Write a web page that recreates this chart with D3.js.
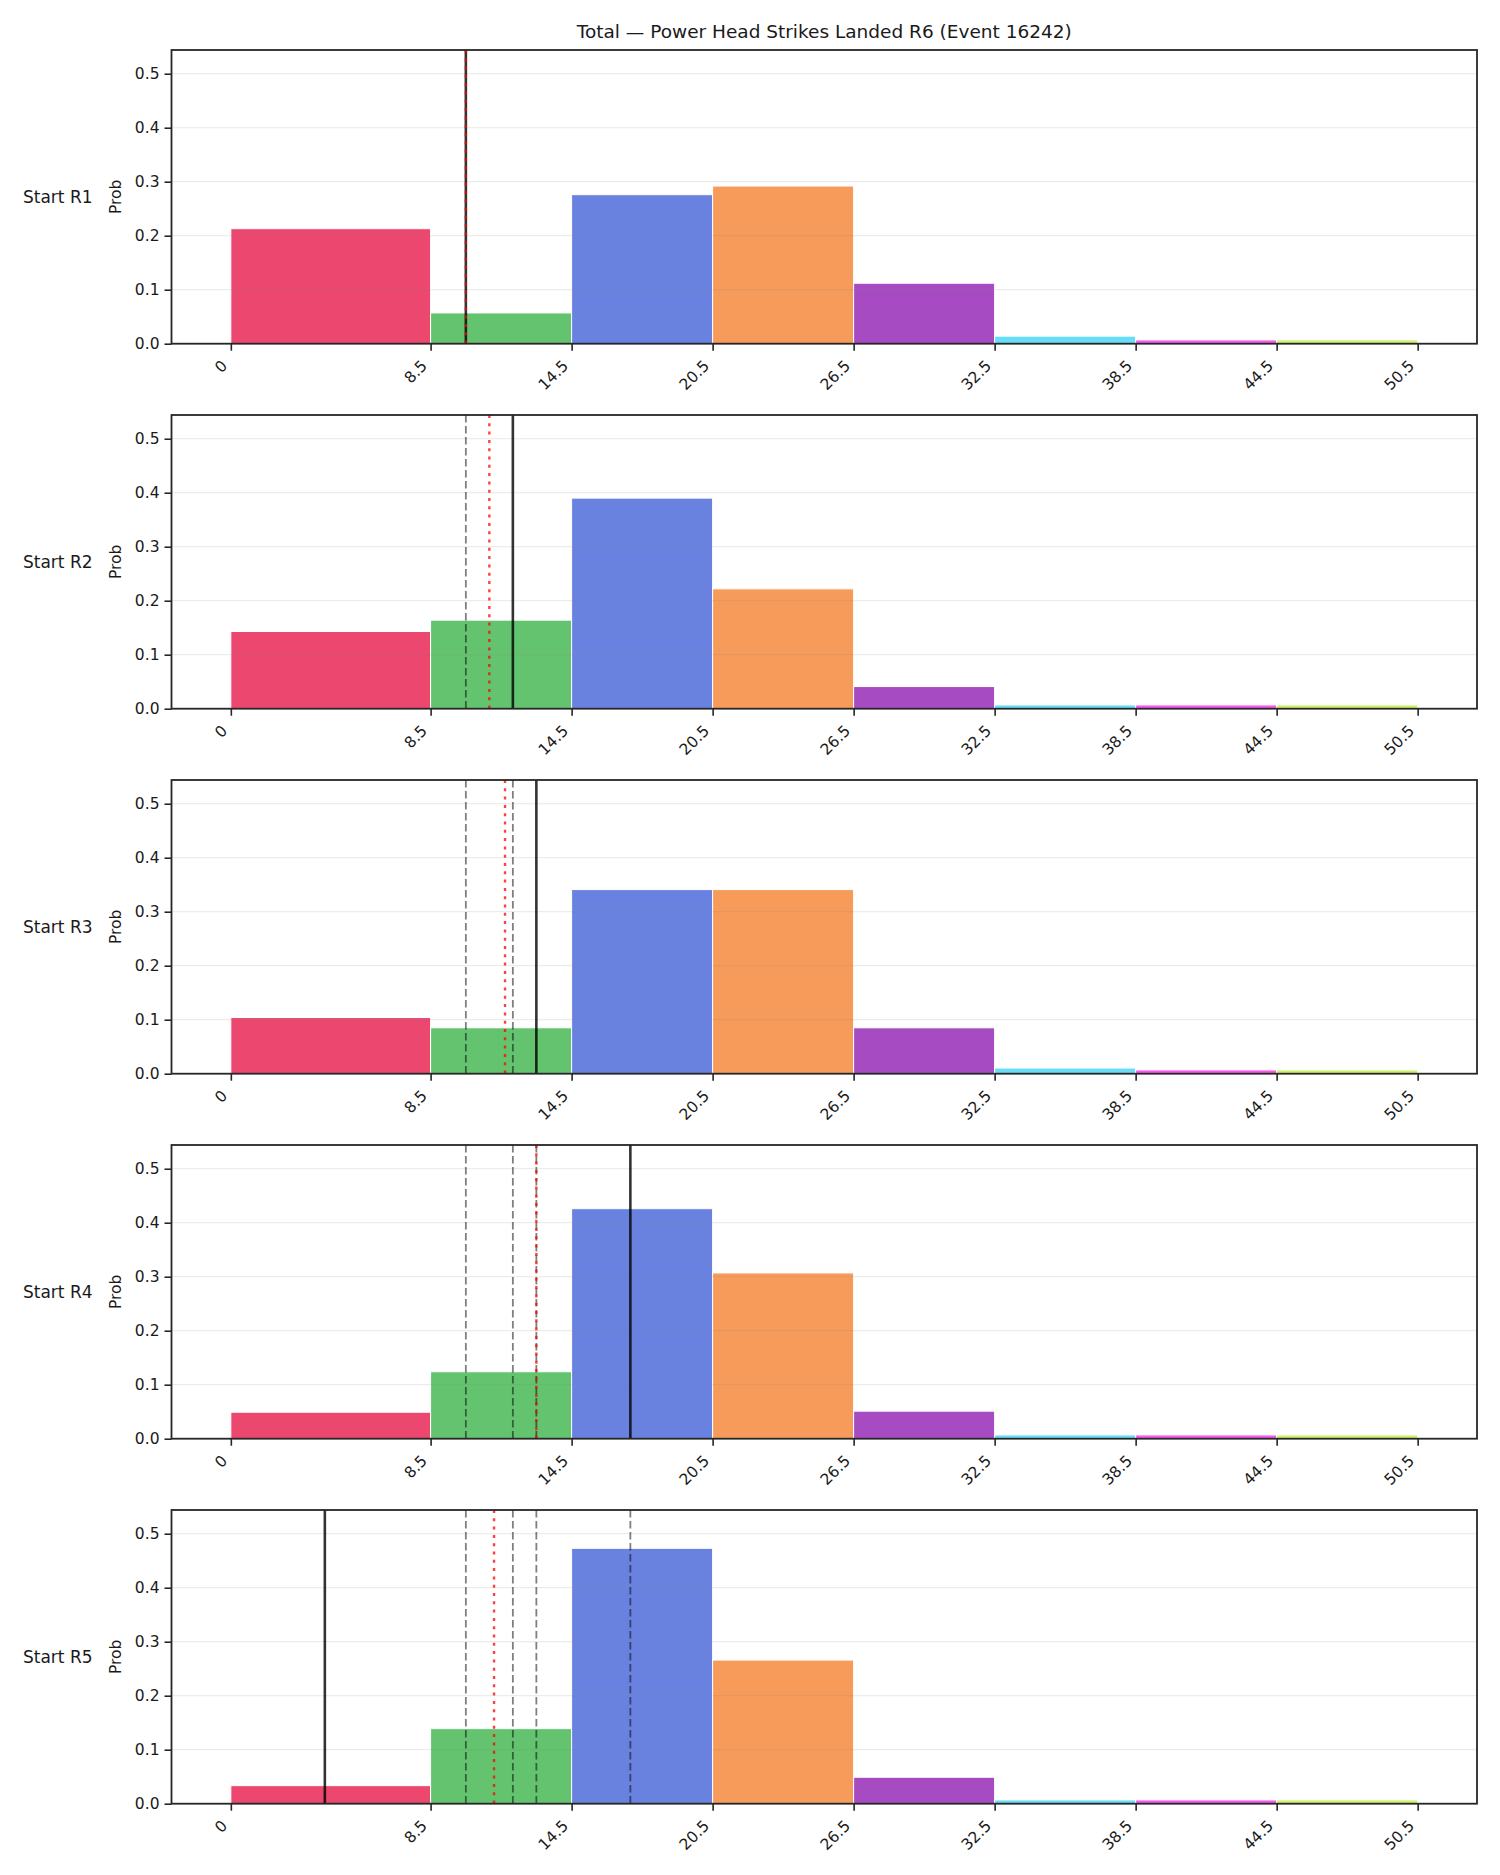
<!DOCTYPE html>
<html>
<head>
<meta charset="utf-8">
<script src="https://cdn.jsdelivr.net/npm/d3@7"></script>
<style>
  body { margin: 0; background: #fff; }
  text { font-family: "DejaVu Sans", sans-serif; fill: #1a1a1a; }
  .spine { fill: none; stroke: #262626; stroke-width: 1.8; }
  .grid line { stroke: #888; stroke-opacity: 0.2; stroke-width: 1; }
</style>
</head>
<body>
<div id="chart"></div>
<script>
(function(){

// bin edges and colours
var edges = [0, 8.5, 14.5, 20.5, 26.5, 32.5, 38.5, 44.5, 50.5];
var binColors = ["#e6194b", "#3cb44b", "#4363d8", "#f58231", "#911eb4", "#42d4f4", "#f032e6", "#bfef45"];
var yTicks = [0, 0.1, 0.2, 0.3, 0.4, 0.5];

var rounds = ["Start R1", "Start R2", "Start R3", "Start R4", "Start R5"];

// probability per bin, one array per starting round
var probR1 = [0.213, 0.057, 0.276, 0.292, 0.112, 0.014, 0.007, 0.007];
var probR2 = [0.143, 0.164, 0.390, 0.222, 0.041, 0.007, 0.007, 0.007];
var probR3 = [0.104, 0.085, 0.341, 0.341, 0.085, 0.0105, 0.007, 0.007];
var probR4 = [0.049, 0.124, 0.426, 0.307, 0.051, 0.007, 0.007, 0.007];
var probR5 = [0.0334, 0.139, 0.473, 0.266, 0.049, 0.007, 0.007, 0.007];

// marker line per round (solid in its own panel, dashed afterwards)
var lineValues = [10, 12, 13, 17, 4];

var title = "Total \u2014 Power Head Strikes Landed R6 (Event 16242)";

var probs = [probR1, probR2, probR3, probR4, probR5];

var W = 1500, H = 1875;
var left = 171.5, right = 1477,
    top0 = 50, pitch = 365, ph = 293.7;

var pad = (edges[edges.length - 1] - edges[0]) * 0.05;
var x = d3.scaleLinear()
    .domain([edges[0] - pad, edges[edges.length - 1] + pad])
    .range([left, right]);

var yMax = d3.max(probs, function(p) { return d3.max(p); }) * 1.15;

var svg = d3.select("#chart").append("svg")
    .attr("width", W)
    .attr("height", H);

svg.append("text")
    .attr("x", (left + right) / 2)
    .attr("y", 38)
    .attr("text-anchor", "middle")
    .style("font-size", "18.5px")
    .text(title);

probs.forEach(function(p, i) {
    var top = top0 + i * pitch;
    var y = d3.scaleLinear().domain([0, yMax]).range([top + ph, top]);
    var g = svg.append("g");

    var bins = p.map(function(v, k) {
        return {x0: edges[k], x1: edges[k + 1], v: v, c: binColors[k]};
    });

    // bars
    g.selectAll("rect.bar")
        .data(bins)
      .enter().append("rect")
        .attr("class", "bar")
        .attr("x", function(d) { return x(d.x0); })
        .attr("width", function(d) { return x(d.x1) - x(d.x0); })
        .attr("y", function(d) { return y(d.v); })
        .attr("height", function(d) { return y(0) - y(d.v); })
        .style("fill", function(d) { return d.c; })
        .style("fill-opacity", 0.8)
        .style("stroke", "#fff")
        .style("stroke-width", 1);

    // grid
    g.append("g")
        .attr("class", "grid")
        .selectAll("line")
        .data(yTicks)
      .enter().append("line")
        .attr("x1", left)
        .attr("x2", right)
        .attr("y1", function(d) { return y(d); })
        .attr("y2", function(d) { return y(d); });

    // earlier rounds dashed
    var prev = lineValues.slice(0, i);
    g.selectAll("line.prev")
        .data(prev)
      .enter().append("line")
        .attr("class", "prev")
        .attr("x1", function(d) { return x(d); })
        .attr("x2", function(d) { return x(d); })
        .attr("y1", top)
        .attr("y2", top + ph)
        .style("stroke", "#000")
        .style("stroke-opacity", 0.5)
        .style("stroke-width", 1.8)
        .style("stroke-dasharray", "7.5,3.5");

    // current round solid
    g.append("line")
        .attr("x1", x(lineValues[i]))
        .attr("x2", x(lineValues[i]))
        .attr("y1", top)
        .attr("y2", top + ph)
        .style("stroke", "#000")
        .style("stroke-opacity", 0.8)
        .style("stroke-width", 2.6);

    // running mean dotted red
    var m = d3.mean(lineValues.slice(0, i + 1));
    g.append("line")
        .attr("x1", x(m))
        .attr("x2", x(m))
        .attr("y1", top)
        .attr("y2", top + ph)
        .style("stroke", "red")
        .style("stroke-opacity", 0.75)
        .style("stroke-width", 2.4)
        .style("stroke-dasharray", "3,5.3");

    // y axis
    var yAxis = d3.axisLeft(y).tickValues(yTicks)
        .tickFormat(d3.format(".1f")).tickSize(7).tickPadding(5);
    var ya = g.append("g")
        .attr("transform", "translate(" + left + ",0)")
        .call(yAxis);
    ya.select(".domain").remove();
    ya.selectAll("line").style("stroke", "#262626").style("stroke-width", 1.6);
    ya.selectAll("text").style("font-size", "15.5px").style("font-family", "DejaVu Sans");

    // x axis
    var xAxis = d3.axisBottom(x).tickValues(edges)
        .tickFormat(function(d) { return d === 0 ? "0" : d3.format(".1f")(d); })
        .tickSize(7);
    var xa = g.append("g")
        .attr("transform", "translate(0," + (top + ph) + ")")
        .call(xAxis);
    xa.select(".domain").remove();
    xa.selectAll("line").style("stroke", "#262626").style("stroke-width", 1.6);
    xa.selectAll("text")
        .style("font-size", "15.5px")
        .style("font-family", "DejaVu Sans")
        .attr("text-anchor", "end")
        .attr("y", null)
        .attr("dy", null)
        .attr("transform", "translate(-3,23) rotate(-45)");

    // frame
    g.append("rect")
        .attr("class", "spine")
        .attr("x", left)
        .attr("y", top)
        .attr("width", right - left)
        .attr("height", ph);

    g.append("text")
        .attr("transform", "translate(121," + (top + ph / 2) + ") rotate(-90)")
        .attr("text-anchor", "middle")
        .style("font-size", "15.5px")
        .text("Prob");

    g.append("text")
        .attr("x", 23)
        .attr("y", top + ph / 2)
        .attr("dy", "0.35em")
        .style("font-size", "17px")
        .text(rounds[i]);
});

})();
</script>
</body>
</html>
